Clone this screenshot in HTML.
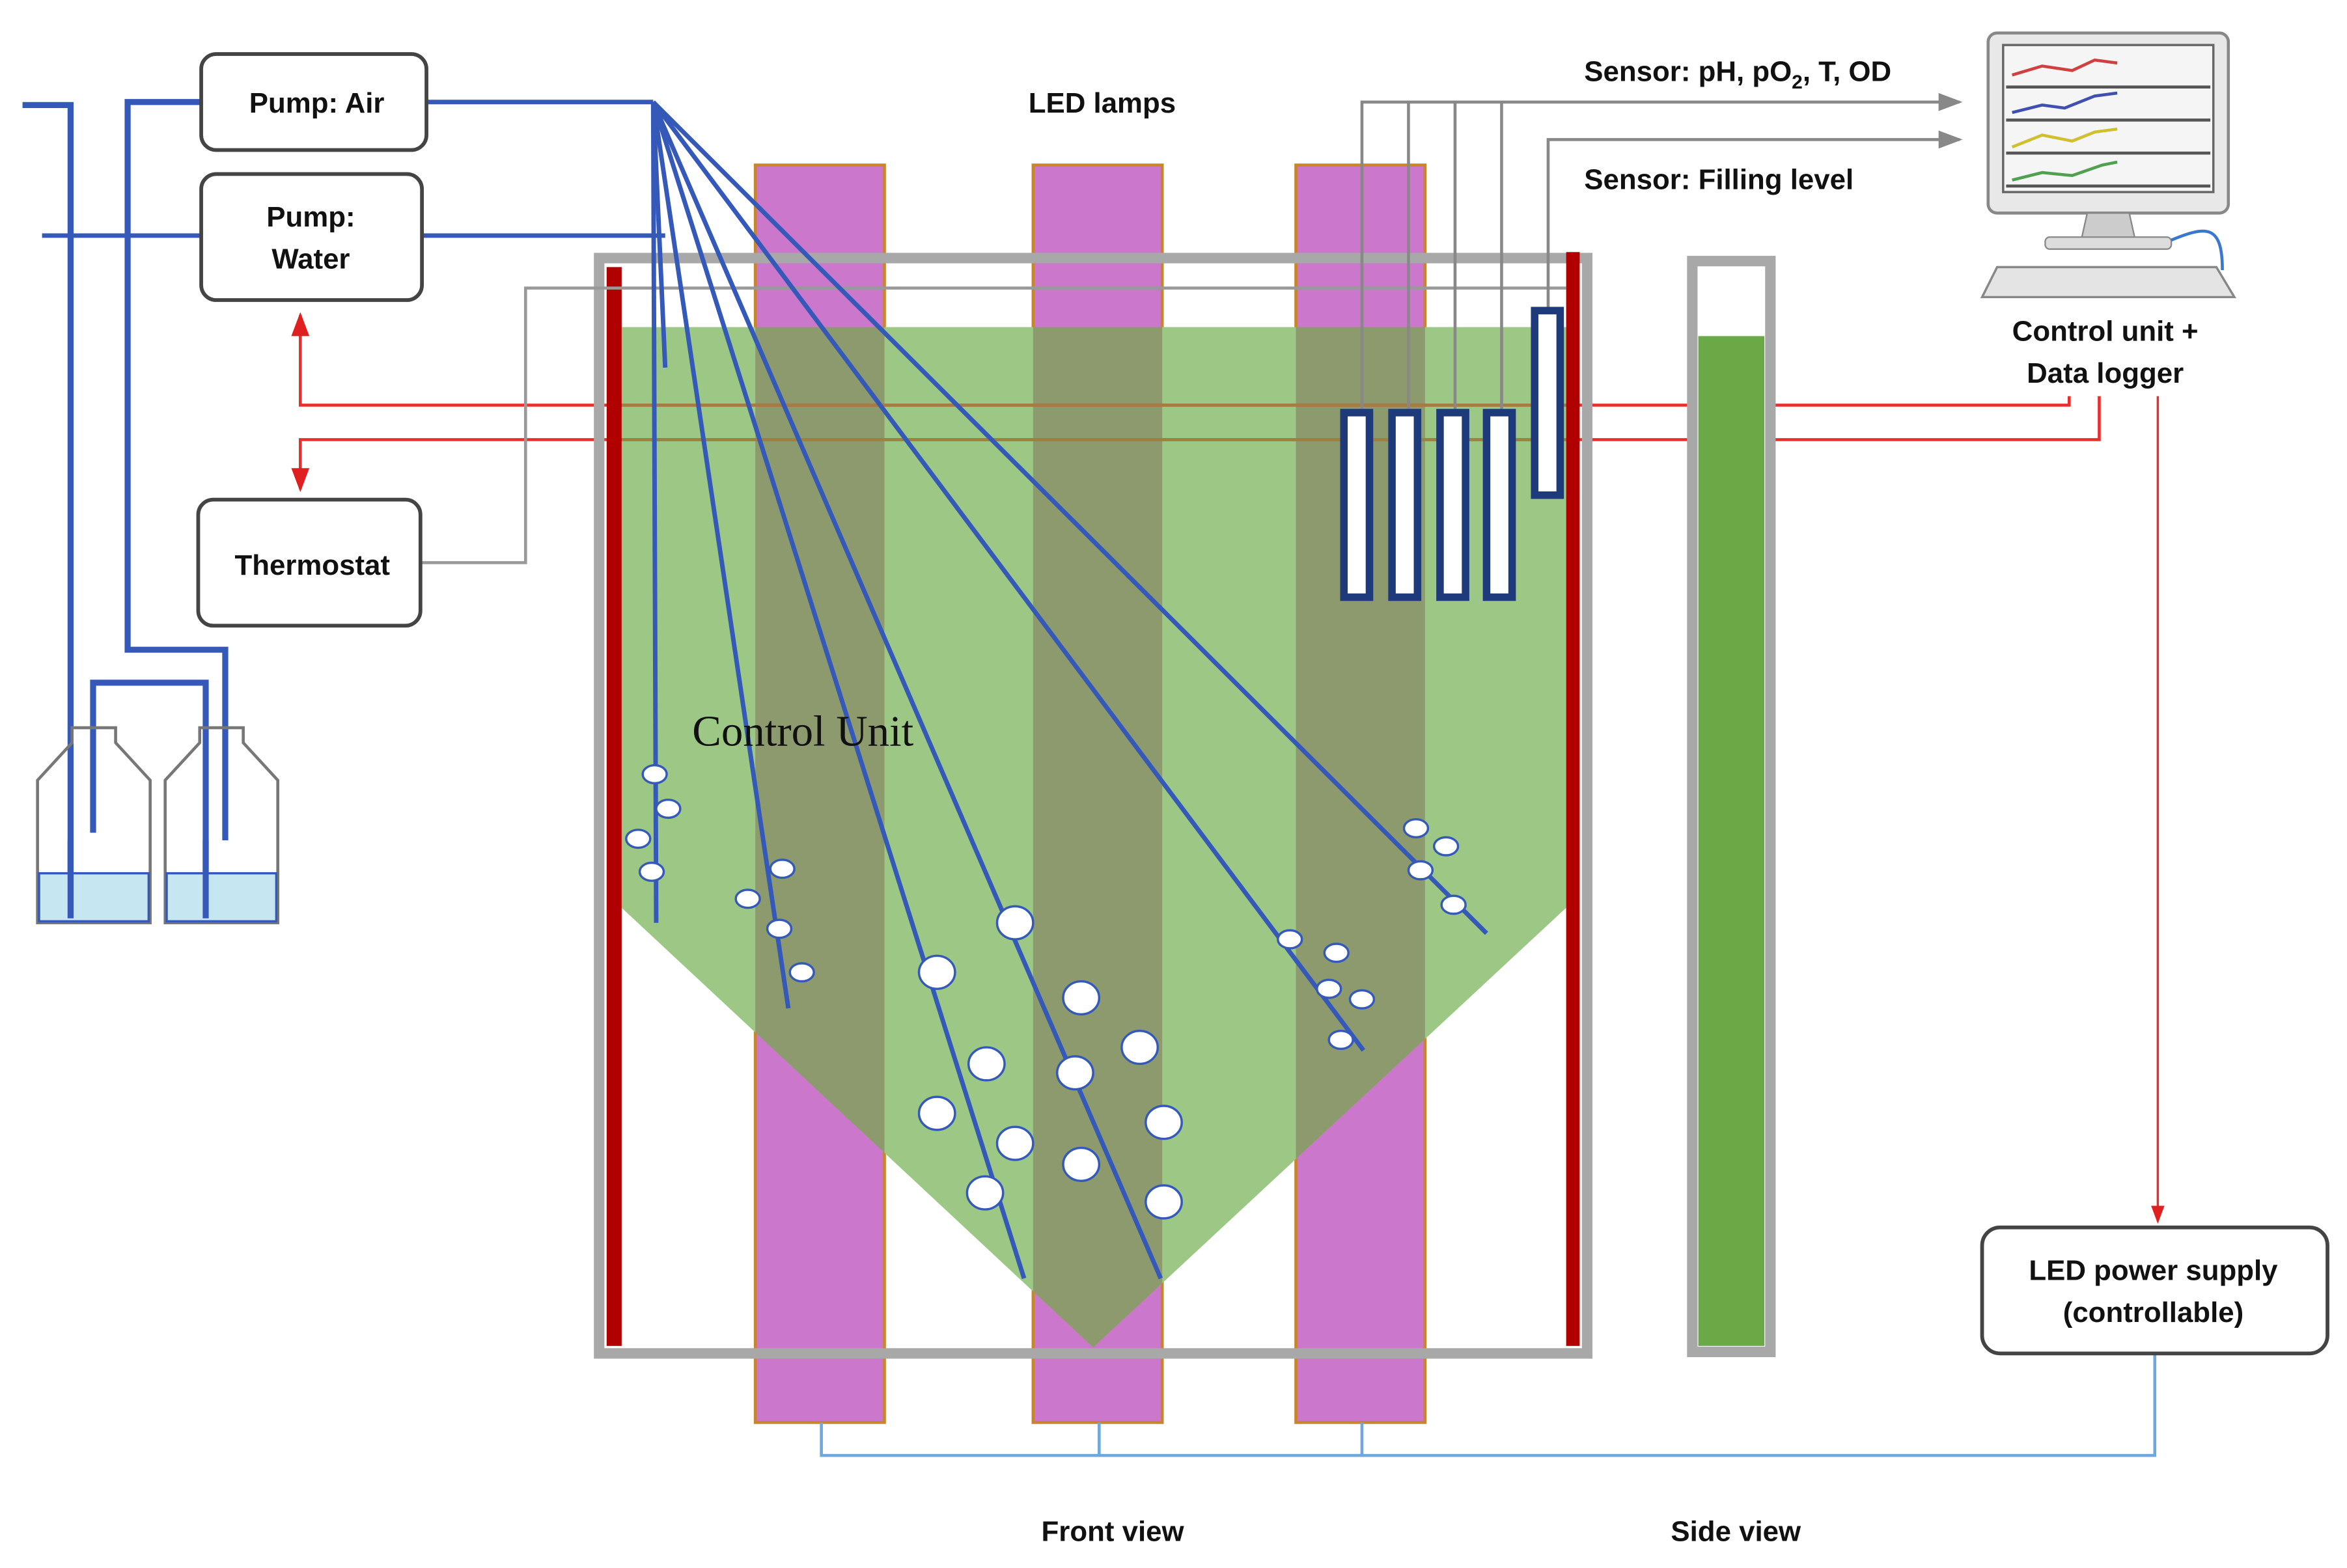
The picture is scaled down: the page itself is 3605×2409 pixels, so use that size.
<!DOCTYPE html>
<html><head><meta charset="utf-8"><style>
html,body{margin:0;padding:0;background:#fff;}
svg{display:block;}
text{font-family:"Liberation Sans",Arial,sans-serif;font-weight:bold;fill:#111;}
</style></head><body>
<svg width="3605" height="2409" viewBox="0 0 1563 1045" preserveAspectRatio="none" xmlns="http://www.w3.org/2000/svg">
<defs>
<marker id="ag" markerWidth="8" markerHeight="8" refX="7" refY="4" orient="auto"><path d="M0,1 L8,4 L0,7z" fill="#888"/></marker>
<marker id="ar" markerWidth="8" markerHeight="8" refX="7" refY="4" orient="auto"><path d="M0,1 L8,4 L0,7z" fill="#e02020"/></marker>
<clipPath id="fun"><polygon points="414,218 1043,218 1043,605 728,898 414,605"/></clipPath>
</defs>
<rect width="1563" height="1045" fill="#fff"/>
<g fill="#cb77cb" stroke="#c8862a" stroke-width="2">
<rect x="503" y="110" width="86" height="838"/>
<rect x="688" y="110" width="86" height="838"/>
<rect x="863" y="110" width="86" height="838"/>
</g>
<polygon points="414,218 1043,218 1043,605 728,898 414,605" fill="#9dc785"/>
<g clip-path="url(#fun)" fill="#8d9a6e">
<rect x="503" y="110" width="86" height="838"/>
<rect x="688" y="110" width="86" height="838"/>
<rect x="863" y="110" width="86" height="838"/>
</g>
<g fill="none" stroke="#e63030" stroke-width="2">
<polyline points="1378,264 1378,270 200,270 200,210" marker-end="url(#ar)"/>
<polyline points="1398,264 1398,293 200,293 200,326" marker-end="url(#ar)"/>
<polyline points="1437,264 1437,814" stroke-width="1.5" marker-end="url(#ar)"/>
</g>
<g stroke="#a08040" stroke-width="2"><line x1="414" y1="270" x2="1043" y2="270"/><line x1="414" y1="293" x2="1043" y2="293"/></g>
<rect x="399" y="172" width="658" height="730" fill="none" stroke="#a8a8a8" stroke-width="7"/>
<rect x="404" y="178" width="10" height="719" fill="#b00000"/>
<rect x="1043" y="168" width="9" height="729" fill="#b00000"/>
<rect x="1127" y="174" width="52" height="727" fill="#fff" stroke="#a8a8a8" stroke-width="7"/>
<rect x="1131" y="224" width="44" height="673" fill="#6aa946"/>
<polyline points="280,375 350,375 350,192 1043,192" fill="none" stroke="#999" stroke-width="2"/>
<g fill="none" stroke="#888" stroke-width="2">
<polyline points="907,273 907,68 1305,68" marker-end="url(#ag)"/>
<line x1="938" y1="273" x2="938" y2="68"/>
<line x1="969" y1="273" x2="969" y2="68"/>
<line x1="1000" y1="273" x2="1000" y2="68"/>
<polyline points="1031,205 1031,93 1305,93" marker-end="url(#ag)"/>
</g>
<g fill="#fff" stroke="#1f3a7a" stroke-width="5">
<rect x="895" y="275" width="17" height="123"/>
<rect x="927" y="275" width="17" height="123"/>
<rect x="959" y="275" width="17" height="123"/>
<rect x="990" y="275" width="17" height="123"/>
<rect x="1022" y="207" width="17" height="123"/>
</g>
<g fill="none" stroke="#3459b8" stroke-width="3">
<line x1="285" y1="68" x2="435" y2="68"/>
<line x1="282" y1="157" x2="443" y2="157"/>
<line x1="435" y1="68" x2="443" y2="245"/>
<line x1="435" y1="68" x2="437" y2="615"/>
<line x1="435" y1="68" x2="525" y2="672"/>
<line x1="435" y1="68" x2="682" y2="852"/>
<line x1="435" y1="68" x2="773" y2="852"/>
<line x1="435" y1="68" x2="908" y2="700"/>
<line x1="435" y1="68" x2="990" y2="622"/>
<polyline points="15,70 47,70 47,600" stroke-width="4"/>
<polyline points="133,68 85,68 85,433 150,433 150,560" stroke-width="4"/>
<line x1="28" y1="157" x2="133" y2="157" stroke-width="3"/>
<polyline points="62,555 62,455 137,455 137,600" stroke-width="4"/>
</g>
<g fill="none" stroke="#777" stroke-width="2">
<path d="M25,615 L25,520 L48,495 L48,485 L77,485 L77,495 L100,520 L100,615 Z"/>
<path d="M110,615 L110,520 L133,495 L133,485 L162,485 L162,495 L185,520 L185,615 Z"/>
</g>
<rect x="26" y="582" width="73" height="32" fill="#c6e6f2" stroke="#3459b8" stroke-width="1.5"/>
<rect x="111" y="582" width="73" height="32" fill="#c6e6f2" stroke="#3459b8" stroke-width="1.5"/>
<line x1="47" y1="560" x2="47" y2="612" stroke="#3459b8" stroke-width="4"/>
<line x1="137" y1="560" x2="137" y2="612" stroke="#3459b8" stroke-width="4"/>
<g fill="#fff" stroke="#3459b8" stroke-width="1.5">
<ellipse cx="436" cy="516" rx="8" ry="6"/><ellipse cx="445" cy="539" rx="8" ry="6"/><ellipse cx="425" cy="559" rx="8" ry="6"/><ellipse cx="434" cy="581" rx="8" ry="6"/>
<ellipse cx="521" cy="579" rx="8" ry="6"/><ellipse cx="498" cy="599" rx="8" ry="6"/><ellipse cx="519" cy="619" rx="8" ry="6"/><ellipse cx="534" cy="648" rx="8" ry="6"/>
<ellipse cx="676" cy="615" rx="12" ry="11"/><ellipse cx="624" cy="648" rx="12" ry="11"/><ellipse cx="720" cy="665" rx="12" ry="11"/><ellipse cx="759" cy="698" rx="12" ry="11"/>
<ellipse cx="657" cy="709" rx="12" ry="11"/><ellipse cx="716" cy="715" rx="12" ry="11"/><ellipse cx="624" cy="742" rx="12" ry="11"/><ellipse cx="775" cy="748" rx="12" ry="11"/>
<ellipse cx="676" cy="762" rx="12" ry="11"/><ellipse cx="720" cy="776" rx="12" ry="11"/><ellipse cx="656" cy="795" rx="12" ry="11"/><ellipse cx="775" cy="801" rx="12" ry="11"/>
<ellipse cx="943" cy="552" rx="8" ry="6"/><ellipse cx="963" cy="564" rx="8" ry="6"/><ellipse cx="946" cy="580" rx="8" ry="6"/><ellipse cx="968" cy="603" rx="8" ry="6"/>
<ellipse cx="859" cy="626" rx="8" ry="6"/><ellipse cx="890" cy="635" rx="8" ry="6"/><ellipse cx="885" cy="659" rx="8" ry="6"/><ellipse cx="907" cy="666" rx="8" ry="6"/><ellipse cx="893" cy="693" rx="8" ry="6"/>
</g>
<text x="461" y="497" style="font-family:'Liberation Serif',serif;font-weight:normal;font-size:29px">Control Unit</text>
<polyline points="547,948 547,970 1435,970 1435,902" fill="none" stroke="#6fa8dc" stroke-width="2"/>
<line x1="732" y1="948" x2="732" y2="970" stroke="#6fa8dc" stroke-width="2"/>
<line x1="907" y1="948" x2="907" y2="970" stroke="#6fa8dc" stroke-width="2"/>
<g fill="#fff" stroke="#444" stroke-width="2.5">
<rect x="134" y="36" width="150" height="64" rx="10"/>
<rect x="134" y="116" width="147" height="84" rx="10"/>
<rect x="132" y="333" width="148" height="84" rx="10"/>
<rect x="1320" y="818" width="230" height="84" rx="12"/>
</g>
<g font-size="19" text-anchor="middle">
<text x="211" y="75">Pump: Air</text>
<text x="207" y="151">Pump:</text><text x="207" y="179">Water</text>
<text x="208" y="383">Thermostat</text>
<text x="1434" y="853">LED power supply</text><text x="1434" y="881">(controllable)</text>
<text x="734" y="75">LED lamps</text>
<text x="1402" y="227">Control unit +</text><text x="1402" y="255">Data logger</text>
<text x="741" y="1027">Front view</text>
<text x="1156" y="1027">Side view</text>
</g>
<text x="1055" y="54" font-size="19">Sensor: pH, pO<tspan font-size="13" dy="5">2</tspan><tspan dy="-5">,  T, OD</tspan></text>
<text x="1055" y="126" font-size="19">Sensor: Filling level</text>
<rect x="1324" y="22" width="160" height="120" rx="6" fill="#e8e8e8" stroke="#888" stroke-width="2"/>
<rect x="1334" y="30" width="140" height="98" fill="#f5f5f5" stroke="#666" stroke-width="1.5"/>
<g stroke="#555" stroke-width="2"><line x1="1336" y1="58" x2="1472" y2="58"/><line x1="1336" y1="80" x2="1472" y2="80"/><line x1="1336" y1="102" x2="1472" y2="102"/><line x1="1336" y1="124" x2="1472" y2="124"/></g>
<polyline points="1340,50 1360,44 1380,47 1395,40 1410,42" fill="none" stroke="#d04040" stroke-width="2"/>
<polyline points="1340,75 1360,70 1375,72 1395,64 1410,62" fill="none" stroke="#4050b0" stroke-width="2"/>
<polyline points="1340,98 1360,90 1380,94 1395,88 1410,86" fill="none" stroke="#d0c030" stroke-width="2"/>
<polyline points="1340,120 1360,115 1380,117 1400,110 1410,108" fill="none" stroke="#50a050" stroke-width="2"/>
<path d="M1390,142 L1418,142 L1422,160 L1386,160 Z" fill="#ccc" stroke="#888"/>
<rect x="1362" y="158" width="84" height="8" rx="3" fill="#ddd" stroke="#888"/>
<path d="M1330,178 L1476,178 L1488,198 L1320,198 Z" fill="#e4e4e4" stroke="#888" stroke-width="1.5"/>
<path d="M1446,160 C1470,150 1480,150 1480,180" fill="none" stroke="#3a78d0" stroke-width="2"/>
</svg>
</body></html>
